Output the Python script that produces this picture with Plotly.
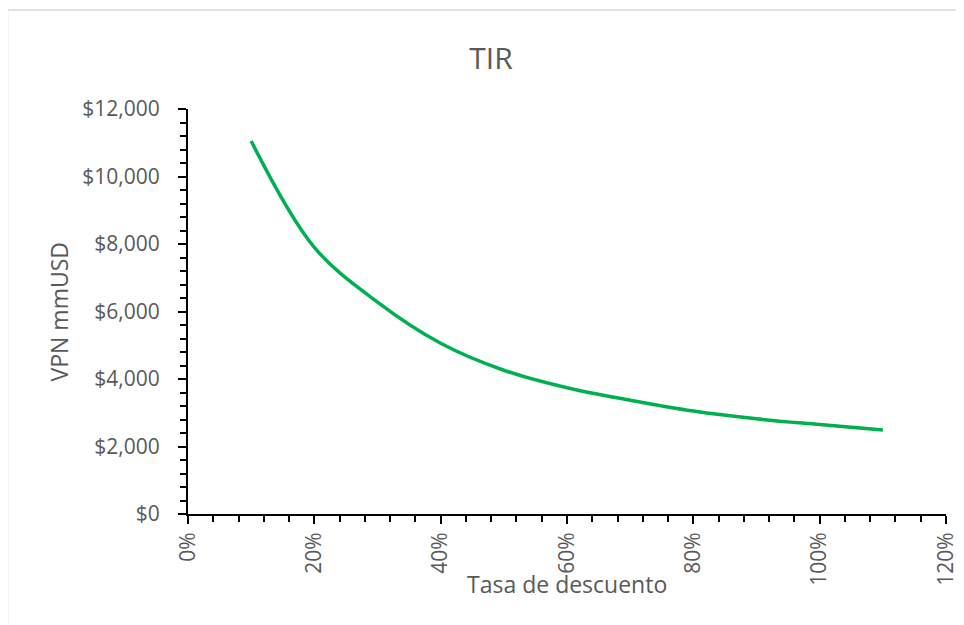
import plotly.graph_objects as go

# Data
tasa = [0.10, 0.20, 0.30, 0.40, 0.50, 0.60, 0.70, 0.80, 0.90, 1.00, 1.10]
vpn = [11050, 7900, 6280, 5060, 4260, 3740, 3370, 3050, 2820, 2650, 2490]

x_ticks = [0, 0.2, 0.4, 0.6, 0.8, 1.0, 1.2]
y_ticks = [0, 2000, 4000, 6000, 8000, 10000, 12000]
y_tick_labels = ["$0", "$2,000", "$4,000", "$6,000", "$8,000", "$10,000", "$12,000"]

txt = "#595959"
font_family = "Open Sans"

fig = go.Figure()
fig.add_trace(go.Scatter(
    x=tasa, y=vpn, mode="lines",
    line=dict(color="#00B050", width=3.5, shape="spline", smoothing=1.0),
    hoverinfo="x+y", showlegend=False,
))

W, H = 964, 625
OFF = 8  # page body margin
# desired pixel positions on the screenshot
PX_L, PX_R, PX_T, PX_B = 188, 946, 109, 514
L, T = PX_L - OFF, PX_T - OFF
R = W - (PX_R - OFF)
B = H - (PX_B - OFF)

fig.update_layout(
    width=W, height=H,
    margin=dict(l=L, r=R, t=T, b=B, autoexpand=False),
    paper_bgcolor="white", plot_bgcolor="white",
    font=dict(family=font_family, color=txt),
    title=dict(text="TIR", x=(491 - OFF) / W, xref="container", xanchor="center",
               y=1 - (58 - OFF) / H, yref="container", yanchor="middle",
               font=dict(size=30, color=txt, family=font_family)),
    xaxis=dict(
        range=[0, 1.2], tickvals=x_ticks, tickformat=".0%",
        tickangle=-90, tickfont=dict(size=21, color=txt),
        showgrid=False, zeroline=False, automargin=False,
        showline=True, linecolor="black", linewidth=2,
        ticks="outside", ticklen=8, tickwidth=2, tickcolor="black",
        minor=dict(dtick=0.04, ticks="outside", ticklen=6, tickwidth=2, tickcolor="black", showgrid=False),
    ),
    yaxis=dict(
        range=[0, 12000], tickmode="array", tickvals=y_ticks, ticktext=y_tick_labels,
        tickfont=dict(size=21, color=txt), ticklabelstandoff=14,
        showgrid=False, zeroline=False, automargin=False,
        showline=True, linecolor="black", linewidth=2,
        ticks="outside", ticklen=8, tickwidth=2, tickcolor="black",
        minor=dict(dtick=400, ticks="outside", ticklen=6, tickwidth=2, tickcolor="black", showgrid=False),
    ),
)

pw, ph = PX_R - PX_L, PX_B - PX_T

# axis titles
fig.add_annotation(text="Tasa de descuento", xref="paper", yref="paper",
                   x=0.5, y=-(584 - PX_B) / ph, xanchor="center", yanchor="middle",
                   showarrow=False, font=dict(size=23, color=txt, family=font_family))
fig.add_annotation(text="VPN mmUSD", xref="paper", yref="paper",
                   x=(58 - PX_L) / pw, y=0.5, xanchor="center", yanchor="middle", textangle=-90,
                   showarrow=False, font=dict(size=23, color=txt, family=font_family))

# chart-area border (light gray), partially cropped in the reference
fig.add_shape(type="rect", xref="paper", yref="paper",
              x0=(7.5 - PX_L) / pw, x1=(W + 40 - PX_L) / pw,
              y0=-(H + 40 - PX_B) / ph, y1=(PX_B - 10) / ph,
              line=dict(color="#D9D9D9", width=1.5), fillcolor="rgba(0,0,0,0)", layer="below")

fig.write_html("out.html")
